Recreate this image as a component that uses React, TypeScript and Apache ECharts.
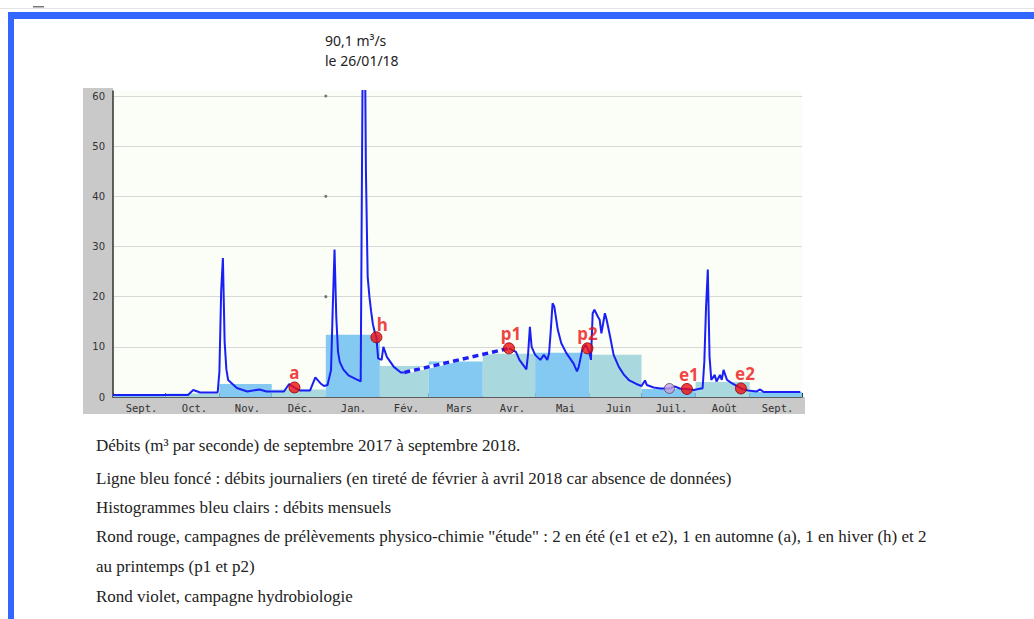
import { useEffect, useRef } from 'react';
import * as echarts from 'echarts';

// ---- Data ----
const monthLabels = ['Sept.', 'Oct.', 'Nov.', 'Déc.', 'Jan.', 'Fév.', 'Mars', 'Avr.', 'Mai', 'Juin', 'Juil.', 'Août', 'Sept.'];
const monthBounds = [
  '2017-09-01', '2017-10-01', '2017-11-01', '2017-12-01', '2018-01-01', '2018-02-01', '2018-03-01',
  '2018-04-01', '2018-05-01', '2018-06-01', '2018-07-01', '2018-08-01', '2018-09-01', '2018-10-01',
];
const monthlyFlow = [0.4, 0.7, 2.6, 1.5, 12.4, 6.2, 7.1, 8.6, 8.8, 8.4, 1.6, 3.0, 1.0];

// daily flow, first continuous part (Sept 2017 -> mid Feb 2018)
const dailyPart1: [string, number][] = [
  ['2017-09-01', 0.4], ['2017-10-14', 0.4], ['2017-10-17', 1.4], ['2017-10-21', 0.9], ['2017-10-31', 0.9],
  ['2017-11-01', 5.0], ['2017-11-02', 21], ['2017-11-03', 27.7], ['2017-11-04', 11], ['2017-11-05', 5.5],
  ['2017-11-06', 3.4], ['2017-11-11', 1.8], ['2017-11-17', 1.1], ['2017-11-24', 1.5], ['2017-11-28', 1.1],
  ['2017-12-08', 1.1], ['2017-12-11', 2.6], ['2017-12-14', 1.9], ['2017-12-17', 1.3], ['2017-12-23', 1.3],
  ['2017-12-26', 3.9], ['2017-12-29', 2.7], ['2017-12-31', 2.2], ['2018-01-02', 2.4], ['2018-01-04', 5.4],
  ['2018-01-05', 18], ['2018-01-06', 29.4], ['2018-01-07', 16], ['2018-01-08', 9], ['2018-01-09', 7],
  ['2018-01-11', 5.5], ['2018-01-14', 4.3], ['2018-01-18', 3.6], ['2018-01-21', 3.1], ['2018-01-22', 60],
  ['2018-01-23', 90.1], ['2018-01-24', 45], ['2018-01-25', 24], ['2018-01-26', 20], ['2018-01-27', 17],
  ['2018-01-28', 14.5], ['2018-01-29', 13], ['2018-01-30', 11.9], ['2018-01-31', 7.7], ['2018-02-02', 7.4],
  ['2018-02-03', 10], ['2018-02-05', 8], ['2018-02-09', 6], ['2018-02-13', 4.9], ['2018-02-15', 4.9],
];
// missing data (dashed)
const dailyGap: [string, number][] = [['2018-02-15', 4.9], ['2018-04-16', 9.7]];
// daily flow, second continuous part (mid April -> Sept 2018)
const dailyPart2: [string, number][] = [
  ['2018-04-16', 9.7], ['2018-04-20', 9.0], ['2018-04-22', 7.4], ['2018-04-26', 5.5], ['2018-04-27', 8.7],
  ['2018-04-28', 14], ['2018-04-29', 10], ['2018-05-01', 8.4], ['2018-05-04', 7.4], ['2018-05-06', 8.4],
  ['2018-05-08', 7.4], ['2018-05-09', 8.7], ['2018-05-10', 13.4], ['2018-05-11', 18.7], ['2018-05-12', 18],
  ['2018-05-14', 13.4], ['2018-05-16', 10.7], ['2018-05-19', 8.7], ['2018-05-23', 6.7], ['2018-05-25', 5.1],
  ['2018-05-26', 6], ['2018-05-28', 9.4], ['2018-05-30', 10.4], ['2018-05-31', 9.7], ['2018-06-01', 9],
  ['2018-06-02', 7.4], ['2018-06-03', 16.7], ['2018-06-04', 17.4], ['2018-06-06', 16], ['2018-06-07', 15.4],
  ['2018-06-08', 12.7], ['2018-06-10', 16.7], ['2018-06-11', 15.4], ['2018-06-13', 12], ['2018-06-15', 8.4],
  ['2018-06-18', 6], ['2018-06-21', 4.4], ['2018-06-24', 3.3], ['2018-06-28', 2.6], ['2018-07-01', 2.2],
  ['2018-07-03', 3.3], ['2018-07-04', 2.4], ['2018-07-08', 1.9], ['2018-07-12', 1.7], ['2018-07-17', 1.7],
  ['2018-07-20', 2.1], ['2018-07-23', 1.7], ['2018-07-27', 1.6], ['2018-07-31', 1.4], ['2018-08-04', 1.7],
  ['2018-08-05', 1.7], ['2018-08-06', 7], ['2018-08-07', 18], ['2018-08-08', 25.4], ['2018-08-09', 8],
  ['2018-08-10', 3.4], ['2018-08-12', 4.4], ['2018-08-13', 3.1], ['2018-08-15', 4.4], ['2018-08-16', 3.4],
  ['2018-08-17', 5.4], ['2018-08-19', 3.4], ['2018-08-22', 2.7], ['2018-08-25', 2.1], ['2018-08-27', 1.7],
  ['2018-08-31', 1.3], ['2018-09-05', 1.1], ['2018-09-07', 1.5], ['2018-09-09', 1.0], ['2018-09-30', 1.0],
];

// sampling campaigns (red) and hydrobiology campaign (violet)
const campaignNames = ['a', 'h', 'p1', 'p2', 'e1', 'e2'];
const campaignDates = ['2017-12-14', '2018-01-30', '2018-04-16', '2018-05-31', '2018-07-27', '2018-08-27'];
const campaignFlows = [1.9, 11.9, 9.7, 9.7, 1.6, 1.7];
const hydrobioDates = ['2018-07-17'];
const hydrobioFlows = [1.7];

// small seam dots on the grid at 1 January
const seamDates = ['2018-01-01', '2018-01-01', '2018-01-01'];
const seamValues = [20, 40, 60];

const yTicks = [0, 10, 20, 30, 40, 50, 60];

const peakText = ['90,1 m³/s', 'le 26/01/18'];
const captionLines = [
  'Débits (m³ par seconde) de septembre 2017 à septembre 2018.',
  'Ligne bleu foncé : débits journaliers (en tireté de février à avril 2018 car absence de données)',
  'Histogrammes bleu clairs : débits mensuels',
  'Rond rouge, campagnes de prélèvements physico-chimie "étude" : 2 en été (e1 et e2), 1 en automne (a), 1 en hiver (h) et 2',
  'au printemps (p1 et p2)',
  'Rond violet, campagne hydrobiologie',
];

// label offsets for campaign labels (style only)
const labelOffsets: [number, number][] = [[0, 0], [6, 2], [2, 0], [0, 0], [2, 0], [4, 0]];

const LINE_BLUE = '#1a20f4';
const SKY = '#84c9f1';
const TEAL = '#a9d9df';

export default function App() {
  const ref = useRef<HTMLDivElement>(null);

  useEffect(() => {
    if (!ref.current) return;
    const chart = echarts.init(ref.current, null, { renderer: 'svg' });

    const monthBars = monthlyFlow.map((v, i) => [monthBounds[i], monthBounds[i + 1], v]);

    const captionY = [445, 478, 507, 536, 566, 596];

    const option: any = {
      animation: false,
      backgroundColor: '#ffffff',
      grid: {
        left: 113,
        right: 1034 - 802,
        top: 91,
        bottom: 619 - 397,
        show: true,
        backgroundColor: '#fbfdf7',
        borderWidth: 0,
      },
      xAxis: [
        {
          type: 'time',
          min: monthBounds[0],
          max: monthBounds[monthBounds.length - 1],
          splitNumber: 13,
          minInterval: 28 * 86400000,
          maxInterval: 31 * 86400000,
          axisLine: { show: true, lineStyle: { color: '#333', width: 1.5 } },
          axisTick: { show: true, inside: true, length: 4, lineStyle: { color: '#333', width: 1 } },
          axisLabel: { show: false },
          splitLine: { show: false },
        },
        {
          type: 'category',
          data: monthLabels,
          position: 'bottom',
          boundaryGap: true,
          axisLine: { show: false },
          axisTick: { show: false },
          splitLine: { show: false },
          axisLabel: {
            margin: 5,
            fontFamily: 'DejaVu Sans Mono',
            fontSize: 10.5,
            color: '#333',
            interval: 0,
            padding: [0, 0, 0, 4],
          },
        },
      ],
      yAxis: {
        type: 'value',
        min: 0,
        max: 61,
        interval: 10,
        axisLine: { show: true, lineStyle: { color: '#333', width: 1.5 } },
        axisTick: { show: false },
        axisLabel: {
          fontFamily: 'DejaVu Sans',
          fontSize: 10,
          color: '#333',
          margin: 8,
          showMaxLabel: false,
          formatter: (v: number) => (yTicks.includes(v) ? String(v) : ''),
        },
        splitLine: { show: true, showMaxLine: false, lineStyle: { color: '#d8d8d8', width: 1 } },
      },
      series: [
        {
          type: 'custom',
          name: 'Débits mensuels',
          xAxisIndex: 0,
          yAxisIndex: 0,
          dimensions: [
            { name: 'start', type: 'time' },
            { name: 'end', type: 'time' },
            { name: 'flow', type: 'number' },
          ],
          encode: { x: [0, 1], y: 2 },
          data: monthBars,
          z: 1,
          clip: true,
          renderItem: (params: any, api: any) => {
            const p0 = api.coord([api.value(0), api.value(2)]);
            const p1 = api.coord([api.value(1), 0]);
            return {
              type: 'rect',
              shape: { x: p0[0], y: p0[1], width: p1[0] - p0[0], height: p1[1] - p0[1] },
              style: { fill: params.dataIndex % 2 === 0 ? SKY : TEAL },
            };
          },
        },
        {
          type: 'scatter',
          name: 'seam',
          xAxisIndex: 0,
          data: seamDates.map((d, i) => [d, seamValues[i]]),
          symbolSize: 3,
          itemStyle: { color: '#555' },
          silent: true,
          z: 2,
        },
        {
          type: 'line',
          name: 'gap-base',
          xAxisIndex: 0,
          data: dailyGap,
          showSymbol: false,
          lineStyle: { color: '#ffffff', width: 3.5 },
          z: 3,
        },
        {
          type: 'line',
          name: 'gap',
          xAxisIndex: 0,
          data: dailyGap,
          showSymbol: false,
          lineStyle: { color: LINE_BLUE, width: 3.5, type: [6, 4] },
          z: 4,
        },
        {
          type: 'line',
          name: 'Débits journaliers',
          xAxisIndex: 0,
          data: dailyPart1,
          showSymbol: false,
          clip: true,
          lineStyle: { color: LINE_BLUE, width: 2 },
          z: 4,
        },
        {
          type: 'line',
          name: 'Débits journaliers 2',
          xAxisIndex: 0,
          data: dailyPart2,
          showSymbol: false,
          clip: true,
          lineStyle: { color: LINE_BLUE, width: 2 },
          z: 4,
        },
        {
          type: 'scatter',
          name: 'Hydrobiologie',
          xAxisIndex: 0,
          data: hydrobioDates.map((d, i) => [d, hydrobioFlows[i]]),
          symbolSize: 10,
          itemStyle: { color: '#c7a3e0', borderColor: '#5a4a66', borderWidth: 1 },
          z: 5,
        },
        {
          type: 'scatter',
          name: 'Campagnes',
          xAxisIndex: 0,
          data: campaignNames.map((n, i) => ({
            name: n,
            value: [campaignDates[i], campaignFlows[i]],
            label: { offset: labelOffsets[i] },
          })),
          symbolSize: 11,
          itemStyle: { color: '#f01010', borderColor: '#8a0000', borderWidth: 1 },
          label: {
            show: true,
            position: 'top',
            distance: 0,
            formatter: (p: any) => p.name,
            fontFamily: 'Noto Sans',
            fontWeight: 'bold',
            fontSize: 17,
            color: '#ee1111',
          },
          z: 6,
        },
      ],
      graphic: [
        { type: 'rect', z: -1, shape: { x: 0, y: 8, width: 1034, height: 1 }, style: { fill: '#e2e2e2' } },
        { type: 'rect', z: -1, shape: { x: 33, y: 6, width: 11, height: 1.5 }, style: { fill: '#777' } },
        { type: 'rect', z: -1, shape: { x: 8, y: 12, width: 1026, height: 7 }, style: { fill: '#3366ff' } },
        { type: 'rect', z: -1, shape: { x: 8, y: 12, width: 6, height: 607 }, style: { fill: '#3366ff' } },
        { type: 'rect', z: -1, shape: { x: 83, y: 88, width: 30, height: 326 }, style: { fill: '#c9c9c9' } },
        { type: 'rect', z: -1, shape: { x: 113, y: 397, width: 692, height: 17 }, style: { fill: '#c9c9c9' } },
        ...peakText.map((t, i) => ({
          type: 'text',
          z: 10,
          x: 325,
          y: 40 + i * 20,
          style: { text: t, font: '14px "Noto Sans"', fill: '#222', textVerticalAlign: 'middle' },
        })),
        ...captionLines.map((t, i) => ({
          type: 'text',
          z: 10,
          x: 96,
          y: captionY[i],
          style: { text: t, font: '17px "Liberation Serif"', fill: '#222', textVerticalAlign: 'middle' },
        })),
      ],
    };

    chart.setOption(option);
    return () => chart.dispose();
  }, []);

  return (
    <div
      ref={ref}
      style={{ position: 'fixed', left: 0, top: 0, width: 1034, height: 619, background: '#fff' }}
    />
  );
}
